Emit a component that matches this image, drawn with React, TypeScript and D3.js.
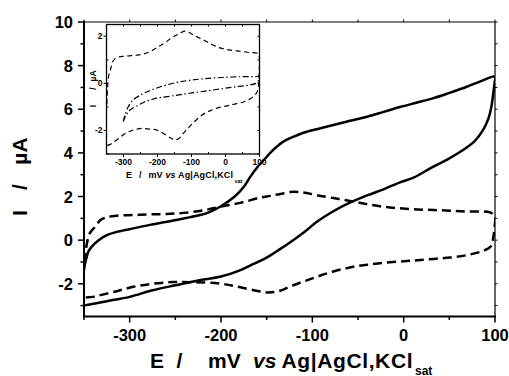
import * as d3 from 'd3'

const W = 509
const H = 376

// main plot, solid curve (E in mV, I in µA), path order
const solidE = [-350, -325, -300, -275, -250, -225, -200, -180, -165, -150, -135, -121, -108, -95, -78, -59, -40, -22, -4, 10, 32, 50, 65, 78, 87, 93, 96, 98, 99.5, 100,
  84, 69, 50, 32, 14, -4, -22, -40, -59, -77, -92, -106, -116, -125, -133, -139, -145, -150, -160, -168, -175, -185, -201, -212, -223, -240, -259, -278, -296, -312, -325, -334, -340, -345, -347, -349, -350]
const solidI = [-3.0, -2.8, -2.6, -2.3, -2.07, -1.85, -1.67, -1.4, -1.1, -0.8, -0.4, 0, 0.4, 0.84, 1.3, 1.72, 2.05, 2.33, 2.65, 2.85, 3.36, 3.75, 4.13, 4.55, 5.05, 5.6, 6.1, 6.7, 7.2, 7.5,
  7.28, 7.03, 6.75, 6.5, 6.3, 6.1, 5.88, 5.66, 5.47, 5.28, 5.12, 4.97, 4.82, 4.66, 4.48, 4.28, 4.05, 3.82, 3.35, 2.9, 2.45, 2.0, 1.53, 1.3, 1.15, 1.0, 0.84, 0.7, 0.54, 0.4, 0.23, 0.0, -0.23, -0.5, -0.77, -1.1, -1.4]

// dashed curve (shown in main plot and in the inset)
const dashE = [-348, -340, -332, -315, -296, -275, -252, -230, -201, -180, -160, -148, -137, -124, -110, -95, -78, -59, -40, -22, 0, 15, 33, 51, 70, 87, 95, 98, 99.5, 100,
  94.5, 70, 51, 33, 15, -4, -22, -40, -59, -77, -95, -108, -121, -135, -146, -157, -179, -201, -220, -241, -260, -278, -296, -314, -325, -332, -338, -343.6, -347, -349]
const dashI = [-2.63, -2.6, -2.52, -2.35, -2.14, -2.0, -1.92, -1.93, -1.99, -2.15, -2.33, -2.4, -2.34, -2.12, -1.9, -1.68, -1.45, -1.25, -1.13, -1.04, -0.97, -0.92, -0.86, -0.8, -0.68, -0.49, -0.3, 0.1, 0.6, 1.07,
  1.27, 1.31, 1.35, 1.38, 1.41, 1.46, 1.53, 1.65, 1.8, 1.93, 2.06, 2.17, 2.22, 2.12, 2.03, 1.95, 1.71, 1.53, 1.36, 1.25, 1.2, 1.18, 1.15, 1.12, 1.05, 0.92, 0.6, 0.32, -0.2, -0.9]

// dash-dot curve (inset only)
const dotE = [-301, -296, -291, -280, -262, -240, -220, -203, -150, -106, -60, -8, 40, 89, 98, 100,
  89, 40, -8, -60, -106, -150, -203, -240, -272, -288, -297, -301]
const dotI = [-1.63, -1.45, -1.32, -1.12, -0.97, -0.8, -0.7, -0.63, -0.52, -0.42, -0.33, -0.22, -0.13, 0.0, 0.15, 0.3,
  0.29, 0.28, 0.25, 0.2, 0.13, 0.02, -0.2, -0.42, -0.71, -1.05, -1.4, -1.63]

const xMajor = [-300, -200, -100, 0, 100]
const xMinor = [-350, -250, -150, -50, 50]
const yMajor = [-2, 0, 2, 4, 6, 8, 10]
const yMinor = [-3, -1, 1, 3, 5, 7, 9]
const insetYMajor = [-2, 0, 2]
const insetYMinor = [-3, -1, 1]

const FONT = 'Liberation Sans, Arial, sans-serif'

const zip = (xs: number[], ys: number[]) => xs.map((x, i) => [x, ys[i]] as [number, number])

export default function App() {
  // main frame
  const m = { left: 84, right: 495, top: 22, bottom: 316.5 }
  const x = d3.scaleLinear().domain([-350, 100]).range([m.left, m.right])
  const y = d3.scaleLinear().domain([-3.5, 10]).range([m.bottom, m.top])

  // inset frame
  const n = { left: 106.5, right: 259.5, top: 24.5, bottom: 154 }
  const xi = d3.scaleLinear().domain([-350, 100]).range([n.left, n.right])
  const yi = d3.scaleLinear().domain([-3, 2.5]).range([n.bottom, n.top])

  const lineMain = d3.line<[number, number]>().x(d => x(d[0])).y(d => y(d[1])).curve(d3.curveCatmullRom)
  const lineInset = d3.line<[number, number]>().x(d => xi(d[0])).y(d => yi(d[1])).curve(d3.curveCatmullRom)

  const solid = zip(solidE, solidI)
  const dashed = zip(dashE, dashI)
  const dotted = zip(dotE, dotI)

  const rightTicks = d3.range(-3, 11, 1)
  const topTicks = d3.range(-350, 101, 50)

  return (
    <svg width={W} height={H} style={{ position: 'absolute', left: 0, top: 0, background: '#fff' }}>
      <defs>
        <clipPath id="clipMain">
          <rect x={m.left} y={m.top} width={m.right - m.left} height={m.bottom - m.top} />
        </clipPath>
        <clipPath id="clipInset">
          <rect x={n.left} y={n.top} width={n.right - n.left} height={n.bottom - n.top} />
        </clipPath>
      </defs>

      {/* main curves */}
      <g clipPath="url(#clipMain)" fill="none" stroke="#000" strokeWidth={2.5} strokeLinejoin="round">
        <path d={lineMain(solid) ?? ''} />
        <path d={lineMain(dashed) ?? ''} strokeDasharray="9,5" />
      </g>

      {/* main axes */}
      <g stroke="#000">
        <line x1={m.left} x2={m.right} y1={m.top} y2={m.top} strokeWidth={1.2} />
        <line x1={m.right} x2={m.right} y1={m.top} y2={m.bottom} strokeWidth={1.2} />
        <line x1={m.left} x2={m.right + 1} y1={m.bottom} y2={m.bottom} strokeWidth={2} />
        <line x1={m.left} x2={m.left} y1={m.top - 1} y2={m.bottom + 1} strokeWidth={2} />
        {xMajor.map(v => <line key={'xM' + v} x1={x(v)} x2={x(v)} y1={m.bottom} y2={m.bottom + 6} strokeWidth={1.5} />)}
        {xMinor.map(v => <line key={'xm' + v} x1={x(v)} x2={x(v)} y1={m.bottom} y2={m.bottom + 3.5} strokeWidth={1.5} />)}
        {yMajor.map(v => <line key={'yM' + v} x1={m.left - 6} x2={m.left} y1={y(v)} y2={y(v)} strokeWidth={1.5} />)}
        {yMinor.map(v => <line key={'ym' + v} x1={m.left - 3.5} x2={m.left} y1={y(v)} y2={y(v)} strokeWidth={1.5} />)}
        {rightTicks.map(v => <line key={'r' + v} x1={m.right} x2={m.right + 2.5} y1={y(v)} y2={y(v)} strokeWidth={1} />)}
        {topTicks.map(v => <line key={'t' + v} x1={x(v)} x2={x(v)} y1={m.top} y2={m.top - 2.5} strokeWidth={1} />)}
      </g>

      {/* main tick labels */}
      <g fontFamily={FONT} fontWeight="bold" fontSize={16.5} fill="#000">
        {xMajor.map(v => (
          <text key={'xl' + v} x={x(v)} y={m.bottom + 24.5} textAnchor="middle">{v}</text>
        ))}
        {yMajor.map(v => (
          <text key={'yl' + v} x={m.left - 11} y={y(v) + 6} textAnchor="end">{v}</text>
        ))}
      </g>

      {/* main axis titles */}
      <g fontFamily={FONT} fontWeight="bold" fontSize={21} fill="#000">
        <text y={368}>
          <tspan x={150}>E</tspan>
          <tspan x={176.5}>/</tspan>
          <tspan x={208}>mV</tspan>
          <tspan x={253} fontStyle="italic">vs</tspan>
          <tspan x={281.5} textLength={131}>Ag|AgCl,KCl</tspan>
          <tspan x={415} y={374.5} fontSize={12}>sat</tspan>
        </text>
        <text transform="translate(27,213) rotate(-90)" textAnchor="middle">I</text>
        <text transform="translate(27,187) rotate(-90)" textAnchor="middle">/</text>
        <text transform="translate(27,151) rotate(-90)" textAnchor="middle">µA</text>
      </g>

      {/* inset */}
      <rect x={n.left} y={n.top} width={n.right - n.left} height={n.bottom - n.top} fill="#fff" />
      <g clipPath="url(#clipInset)" fill="none" stroke="#000" strokeWidth={1.2}>
        <path d={lineInset(dashed) ?? ''} strokeDasharray="5,3.5" />
        <path d={lineInset(dotted) ?? ''} strokeDasharray="6,2.5,1.5,2.5" />
      </g>
      <g stroke="#000">
        <rect x={n.left} y={n.top} width={n.right - n.left} height={n.bottom - n.top} fill="none" strokeWidth={1.3} />
        {xMajor.map(v => <line key={'ixM' + v} x1={xi(v)} x2={xi(v)} y1={n.bottom} y2={n.bottom + 3} strokeWidth={1} />)}
        {xMinor.map(v => <line key={'ixm' + v} x1={xi(v)} x2={xi(v)} y1={n.bottom} y2={n.bottom - 2} strokeWidth={1} />)}
        {insetYMajor.map(v => <line key={'iyM' + v} x1={n.left - 3} x2={n.left} y1={yi(v)} y2={yi(v)} strokeWidth={1} />)}
        {insetYMinor.map(v => <line key={'iym' + v} x1={n.left} x2={n.left + 2} y1={yi(v)} y2={yi(v)} strokeWidth={1} />)}
        {topTicks.map(v => <line key={'it' + v} x1={xi(v)} x2={xi(v)} y1={n.top} y2={n.top + 2} strokeWidth={1} />)}
        {d3.range(-3, 3, 1).map(v => <line key={'ir' + v} x1={n.right} x2={n.right - 2} y1={yi(v)} y2={yi(v)} strokeWidth={1} />)}
      </g>
      <g fontFamily={FONT} fontWeight="bold" fontSize={8.5} fill="#000">
        {xMajor.map(v => (
          <text key={'ixl' + v} x={xi(v)} y={n.bottom + 10.5} textAnchor="middle">{v}</text>
        ))}
        {insetYMajor.map(v => (
          <text key={'iyl' + v} x={n.left - 4} y={yi(v) + 3} textAnchor="end">{v}</text>
        ))}
        <text transform="translate(95.5,106) rotate(-90)" textAnchor="middle">I</text>
        <text transform="translate(95.5,88.5) rotate(-90)" textAnchor="middle">/</text>
        <text transform="translate(95.5,76) rotate(-90)" textAnchor="middle">µA</text>
      </g>
      <g fontFamily={FONT} fontWeight="bold" fontSize={9} fill="#000">
        <text y={178.3}>
          <tspan x={126}>E</tspan>
          <tspan x={139}>/</tspan>
          <tspan x={148.5}>mV</tspan>
          <tspan x={165.5} fontStyle="italic">vs</tspan>
          <tspan x={178} textLength={55}>Ag|AgCl,KCl</tspan>
          <tspan x={234.5} y={183} fontSize={5.5}>sat</tspan>
        </text>
      </g>
    </svg>
  )
}
